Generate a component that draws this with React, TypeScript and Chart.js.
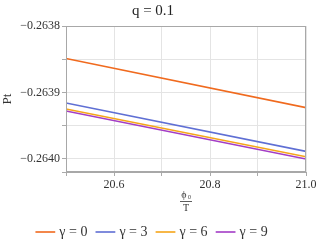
import React, { useEffect, useRef } from "react";
import { Chart, registerables } from "chart.js";

Chart.register(...registerables);

const xValues = [20.5, 21.0];
const gamma0 = [-0.263849, -0.263923];
const gamma3 = [-0.263916, -0.263989];
const gamma6 = [-0.263925, -0.263997];
const gamma9 = [-0.263928, -0.2640005];
const seriesLabels = ["γ = 0", "γ = 3", "γ = 6", "γ = 9"];
const seriesColors = ["#f06a1e", "#5f6fd4", "#f5a51a", "#a33dc6"];
const titleText = "q = 0.1";

const FONT = "'Liberation Serif'";

const framePlugin = {
  id: "frame",
  afterDraw(chart: any) {
    const { ctx, chartArea } = chart;
    ctx.save();
    ctx.strokeStyle = "#a8a8a8";
    ctx.lineWidth = 1;
    ctx.strokeRect(chartArea.left + 0.5, chartArea.top + 0.5, chartArea.right - chartArea.left - 1, chartArea.bottom - chartArea.top - 1);
    // x-axis fraction label ϕ0 / T
    const cx = (chartArea.left + chartArea.right) / 2;
    const y0 = chartArea.bottom + 26;
    ctx.fillStyle = "#333";
    ctx.textAlign = "center";
    ctx.textBaseline = "alphabetic";
    ctx.font = "10px " + FONT;
    ctx.fillText("ϕ", cx - 2, y0);
    ctx.font = "6px " + FONT;
    ctx.fillText("0", cx + 3.5, y0 + 1);
    ctx.beginPath();
    ctx.moveTo(cx - 6, y0 + 3.5);
    ctx.lineTo(cx + 6, y0 + 3.5);
    ctx.lineWidth = 0.8;
    ctx.strokeStyle = "#333";
    ctx.stroke();
    ctx.font = "10px " + FONT;
    ctx.fillText("T", cx, y0 + 12.5);
    ctx.restore();
  },
};

export default function App() {
  const ref = useRef<HTMLCanvasElement>(null);
  useEffect(() => {
    const series = [gamma0, gamma3, gamma6, gamma9];
    const chart = new Chart(ref.current!, {
      type: "line",
      data: {
        datasets: series.map((s, i) => ({
          label: seriesLabels[i],
          data: xValues.map((x, j) => ({ x, y: s[j] })),
          borderColor: seriesColors[i],
          backgroundColor: seriesColors[i],
          borderWidth: 1.6,
          pointRadius: 0,
          tension: 0,
        })),
      },
      options: {
        animation: false,
        responsive: false,
        layout: { padding: { left: 0, right: 13, top: 0, bottom: -4 } },
        plugins: {
          title: {
            display: true,
            text: titleText,
            color: "#222",
            font: { family: FONT, size: 15, weight: "normal" },
            padding: { top: 2, bottom: 6 },
          },
          legend: {
            position: "bottom",
            labels: {
              usePointStyle: true,
              pointStyle: "line",
              boxWidth: 16,
              color: "#333",
              font: { family: FONT, size: 14 },
              padding: 11,
            },
          },
          tooltip: { enabled: false },
        },
        scales: {
          x: {
            type: "linear",
            min: 20.5,
            max: 21.0,
            afterFit: (s: any) => { s.height = 42; },
            ticks: {
              stepSize: 0.1,
              autoSkip: false,
              maxRotation: 0,
              color: "#333",
              font: { family: FONT, size: 12 },
              padding: 2,
              callback: (v: any) => (Math.round(Number(v) * 10) % 2 === 0 ? Number(v).toFixed(1) : ""),
            },
            grid: { color: "#e4e4e4", tickLength: 4, tickColor: "#aaa" },
            border: { color: "#a8a8a8" },
          },
          y: {
            min: -0.26402,
            max: -0.2638,
            afterFit: (s: any) => { s.width = 66; },
            ticks: {
              stepSize: 0.00005,
              autoSkip: false,
              color: "#333",
              font: { family: FONT, size: 12 },
              padding: 2,
              callback: (v: any) => {
                const r = Number(v) / 0.00005;
                const k = Math.round(r);
                if (Math.abs(r - k) > 1e-4 || k % 2 !== 0) return "";
                return "−" + Math.abs(k * 0.00005).toFixed(4);
              },
            },
            title: {
              display: true,
              text: "Pt",
              color: "#333",
              font: { family: FONT, size: 13 },
              padding: 0,
            },
            grid: { color: "#e4e4e4", tickLength: 4, tickColor: "#aaa" },
            border: { color: "#a8a8a8" },
          },
        },
      },
      plugins: [framePlugin],
    } as any);
    return () => chart.destroy();
  }, []);
  return (
    <div style={{ position: "absolute", left: 0, top: 0, width: 319, height: 245, background: "#fff" }}>
      <canvas ref={ref} width={319} height={245} />
    </div>
  );
}
